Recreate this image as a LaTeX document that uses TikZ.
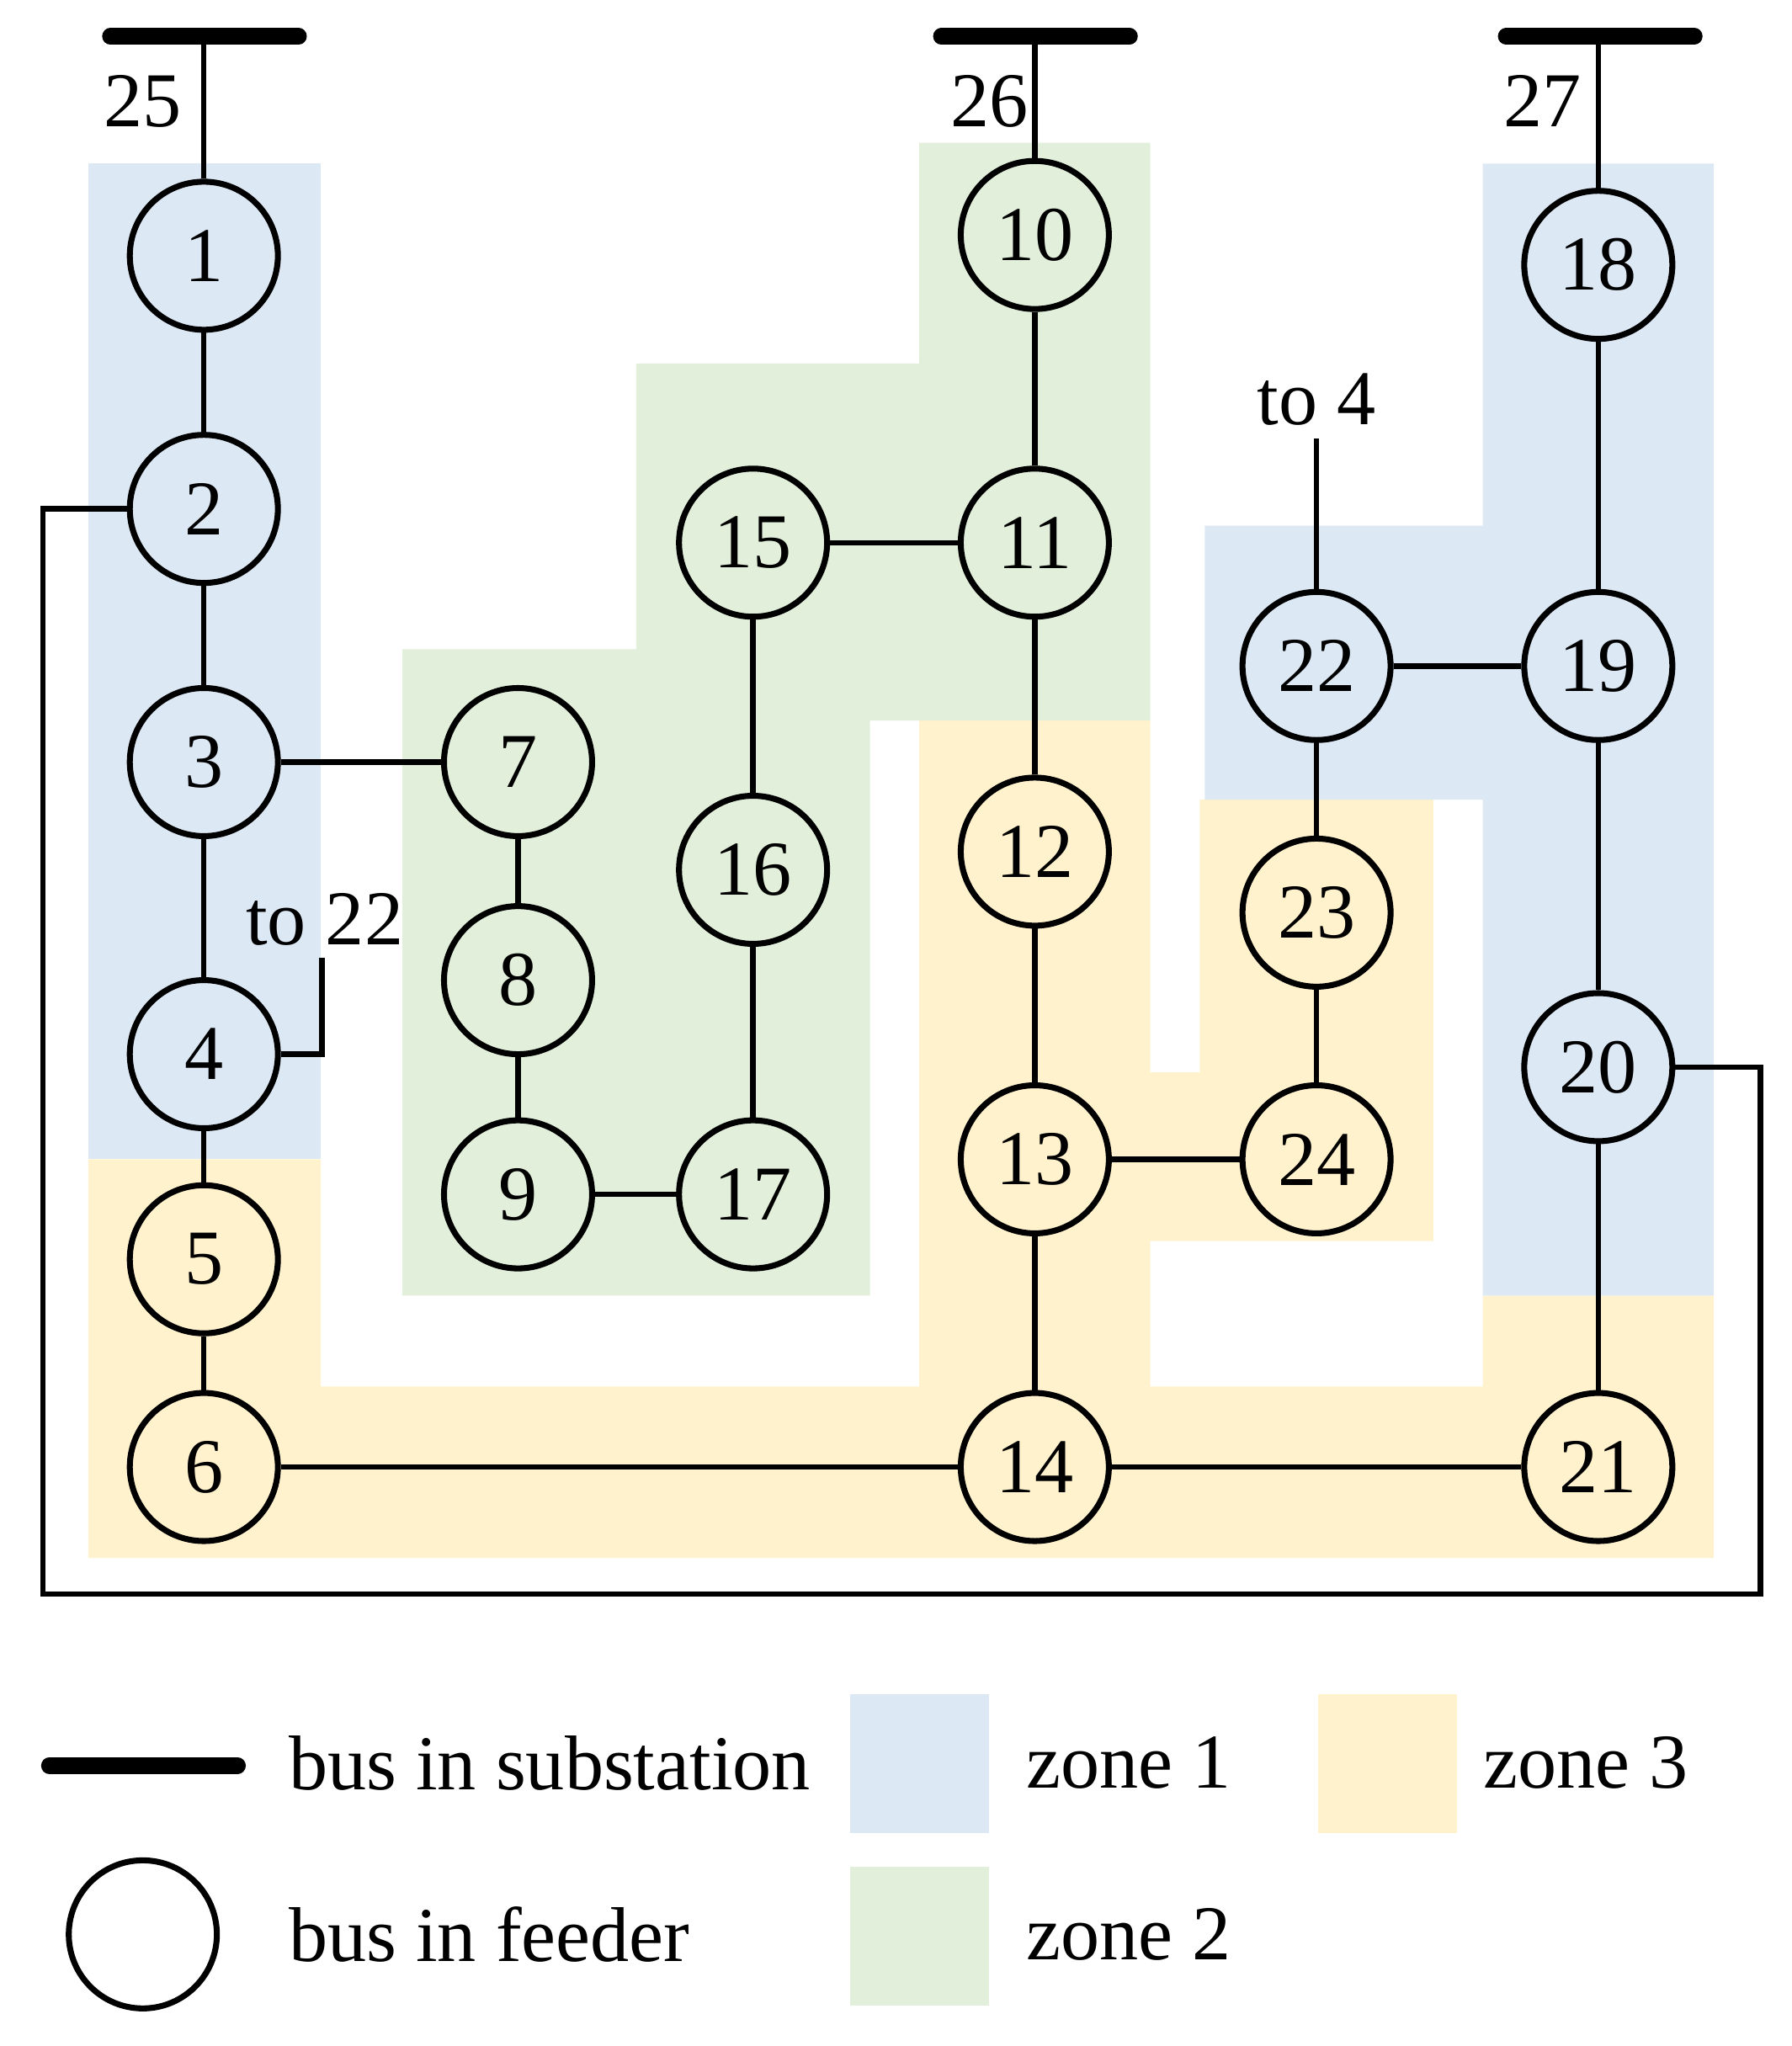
\documentclass[tikz,border=0pt]{standalone}
\usepackage{fontspec}
\setmainfont{Liberation Serif}
\begin{document}
\begin{tikzpicture}[x=0.01cm,y=-0.01cm,
  bus/.style={circle,draw,line width=1.3pt,minimum size=1.14cm,inner sep=0pt,font=\fontsize{17}{20}\selectfont},
  ln/.style={line width=1.2pt},
  bar/.style={line width=3.6pt,line cap=round},
  lbl/.style={font=\fontsize{17}{20}\selectfont},
  z1/.style={fill=blue1},z2/.style={fill=green2},z3/.style={fill=yellow3}]
\definecolor{blue1}{HTML}{DDE8F5}
\definecolor{green2}{HTML}{E2EFDA}
\definecolor{yellow3}{HTML}{FFF2CC}
\useasboundingbox (0,0) rectangle (1380,1576);
% zones
\fill[z1] (68,126) rectangle (247,893);
\fill[z3] (68,893)--(247,893)--(247,1068)--(708,1068)--(708,555)--(886,555)--(886,826)--(924,826)--(924,616)--(1104,616)--(1104,956)--(886,956)--(886,1068)--(1142,1068)--(1142,998)--(1320,998)--(1320,1200)--(68,1200)--cycle;
\fill[z2] (310,500)--(490,500)--(490,280)--(708,280)--(708,110)--(886,110)--(886,555)--(670,555)--(670,998)--(310,998)--cycle;
\fill[z1] (928,405)--(1142,405)--(1142,126)--(1320,126)--(1320,998)--(1142,998)--(1142,616)--(928,616)--cycle;
% nodes
\foreach \n/\x/\y in {1/157/197,2/157/392,3/157/587,4/157/812,5/157/970,6/157/1130,
 7/399/587,8/399/755,9/399/920,15/580/418,16/580/670,17/580/920,
 10/797/181,11/797/418,12/797/656,13/797/893,14/797/1130,
 22/1014/513,23/1014/703,24/1014/893,18/1231/204,19/1231/513,20/1231/822,21/1231/1130}
  \node[bus] (n\n) at (\x,\y) {\n};
% substation buses
\coordinate (b25) at (157,28); \coordinate (b26) at (797,28); \coordinate (b27) at (1231,28);
\draw[bar] (85,28)--(230,28); \draw[bar] (725,28)--(870,28); \draw[bar] (1160,28)--(1305,28);
\node[lbl] (l25) at (110,78) {25}; \node[lbl] (l26) at (762,78) {26}; \node[lbl] (l27) at (1188,78) {27};
\draw[ln] (b25)--(n1); \draw[ln] (b26)--(n10); \draw[ln] (b27)--(n18);
% lines
\draw[ln] (n1)--(n2) (n2)--(n3) (n3)--(n4) (n4)--(n5) (n5)--(n6) (n3)--(n7) (n7)--(n8) (n8)--(n9) (n9)--(n17)
 (n17)--(n16) (n16)--(n15) (n15)--(n11) (n10)--(n11) (n11)--(n12) (n12)--(n13) (n13)--(n14) (n13)--(n24)
 (n24)--(n23) (n23)--(n22) (n22)--(n19) (n18)--(n19) (n19)--(n20) (n20)--(n21) (n6)--(n14) (n14)--(n21);
\coordinate (c1) at (33,392); \coordinate (c2) at (33,1228); \coordinate (c3) at (1356,1228); \coordinate (c4) at (1356,822);
\draw[ln] (n2.west)--(c1)--(c2)--(c3)--(c4)--(n20.east);
\coordinate (t22a) at (248,812); \coordinate (t22b) at (248,738);
\draw[ln] (n4.east)--(t22a)--(t22b);
\node[lbl] (lt22) at (250,708) {to 22};
\coordinate (t4) at (1014,338);
\draw[ln] (n22)--(t4);
\node[lbl] (lt4) at (1014,308) {to 4};
% legend
\draw[bar] (38,1360)--(183,1360);
\node[lbl,anchor=west] (lg1) at (210,1358) {bus in substation};
\node[bus,minimum size=1.14cm] (lgc) at (110,1490) {};
\node[lbl,anchor=west] (lg2) at (210,1490) {bus in feeder};
\fill[z1] (655,1305) rectangle (762,1412);
\node[lbl,anchor=west] (lg3) at (778,1358) {zone 1};
\fill[z3] (1015,1305) rectangle (1122,1412);
\node[lbl,anchor=west] (lg4) at (1130,1358) {zone 3};
\fill[z2] (655,1438) rectangle (762,1545);
\node[lbl,anchor=west] (lg5) at (778,1490) {zone 2};
\end{tikzpicture}
\end{document}
